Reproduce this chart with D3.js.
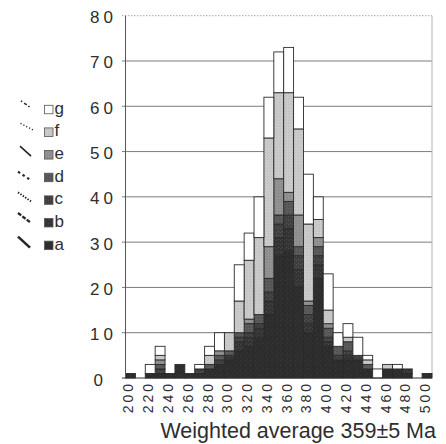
<!DOCTYPE html>
<html>
<head>
<meta charset="utf-8">
<script src="https://cdn.jsdelivr.net/npm/d3@7"></script>
<style>
  html, body { margin: 0; padding: 0; background: #fff; }
  svg { display: block; font-family: "Liberation Sans", Arial, Helvetica, sans-serif; }
</style>
</head>
<body>
<svg id="chart" width="446" height="444"></svg>
<script>
// Age bins (Ma), one bar per 10 Ma step
const bins = [200,210,220,230,240,250,260,270,280,290,300,310,320,330,340,350,
              360,370,380,390,400,410,420,430,440,450,460,470,480,490,500];

// Counts per bin for each sample group, stacked a (bottom) to g (top)
const a = [1,0,1,1,1,3,1,1,2,3,4,6,7,9,14,27,28,20,10,22,7,4,4,4,2,0,2,2,1,0,1];
const b = [0,0,0,0,0,0,0,0,0,0,1,2,2,2,3,4,5,4,2,3,1,0,1,0,0,0,0,0,1,0,0];
const c = [0,0,0,1,0,0,0,1,0,1,0,1,1,1,2,3,3,3,2,2,1,1,1,1,0,0,0,0,0,0,0];
const d = [0,0,0,1,0,0,0,0,1,1,1,1,2,2,3,2,3,2,2,2,2,2,2,0,1,0,0,0,0,0,0];
const e = [0,0,0,1,0,0,0,0,0,1,0,0,1,0,7,8,2,7,1,2,1,0,0,0,0,0,0,0,0,0,0];
const f = [0,0,0,1,0,0,0,0,2,0,4,7,13,17,24,19,22,19,17,4,3,0,1,0,1,0,1,0,0,0,0];
const g = [0,0,2,2,0,0,0,1,2,4,0,8,6,9,9,9,10,7,11,5,8,3,3,4,1,2,0,1,0,0,0];

const seriesKeys = ["a","b","c","d","e","f","g"];
const seriesArrays = [a, b, c, d, e, f, g];

const yTicks = [0,10,20,30,40,50,60,70,80];
const xTickLabels = [200,220,240,260,280,300,320,340,360,380,400,420,440,460,480,500];
const xTitle = "Weighted average 359±5 Ma";

// Table for d3.stack
const rows = bins.map((bin, i) => {
  const r = { bin };
  seriesKeys.forEach((k, j) => { r[k] = seriesArrays[j][i]; });
  return r;
});

const svg = d3.select("#chart");
const textColor = "#2e2e2e";

// Soft stipple patterns for the shaded groups
const defs = svg.append("defs");
function stipple(id, base, dot, size) {
  const p = defs.append("pattern").attr("id", id)
    .attr("patternUnits", "userSpaceOnUse").attr("width", size).attr("height", size);
  p.append("rect").attr("width", size).attr("height", size).attr("fill", base);
  p.append("rect").attr("x", 0).attr("y", 0).attr("width", 1).attr("height", 1).attr("fill", dot);
  p.append("rect").attr("x", Math.floor(size / 2)).attr("y", Math.floor(size / 2) + 1)
    .attr("width", 1).attr("height", 1).attr("fill", dot);
}
stipple("pa", "#2d2d2d", "#383838", 5);
stipple("pb", "#343434", "#4a4a4a", 4);
stipple("pc", "#3f3f3f", "#575757", 4);
stipple("pd", "#5c5c5c", "#4c4c4c", 3);
stipple("pe", "#8c8c8c", "#9c9c9c", 3);
stipple("pf", "#cbcbcb", "#bebebe", 3);

const fills = {
  a: "url(#pa)", b: "url(#pb)", c: "url(#pc)", d: "url(#pd)",
  e: "url(#pe)", f: "url(#pf)", g: "#ffffff"
};

// Scales
const x = d3.scaleBand().domain(bins).range([125.5, 432]).padding(0);
const y = d3.scaleLinear().domain([0, 80]).range([378, 15.7]);

// Gridlines (top one dotted and light)
svg.append("g").selectAll("line").data(yTicks.filter(v => v > 0)).join("line")
  .attr("x1", 122).attr("x2", 432)
  .attr("y1", v => y(v)).attr("y2", v => y(v))
  .attr("stroke", v => v === 80 ? "#a8a8a8" : "#7c7c7c")
  .attr("stroke-width", 1)
  .attr("stroke-dasharray", v => v === 80 ? "1.5,1.5" : null);

// Right frame
svg.append("line")
  .attr("x1", 432).attr("x2", 432).attr("y1", y(80)).attr("y2", y(0))
  .attr("stroke", "#b5b5b5").attr("stroke-width", 1);

// Stacked bars
const stacked = d3.stack().keys(seriesKeys)(rows);
svg.append("g").selectAll("g").data(stacked).join("g")
  .attr("fill", s => fills[s.key])
  .selectAll("rect")
  .data(s => s.filter(p => p[1] - p[0] > 0))
  .join("rect")
  .attr("x", p => x(p.data.bin))
  .attr("width", x.bandwidth())
  .attr("y", p => y(p[1]))
  .attr("height", p => y(p[0]) - y(p[1]))
  .attr("stroke", "#2a2a2a")
  .attr("stroke-width", 0.9);

// Axes lines
svg.append("line")
  .attr("x1", 125.5).attr("x2", 125.5).attr("y1", y(80)).attr("y2", y(0))
  .attr("stroke", "#555").attr("stroke-width", 1);
svg.append("line")
  .attr("x1", 122).attr("x2", 432).attr("y1", y(0)).attr("y2", y(0))
  .attr("stroke", "#333").attr("stroke-width", 1.2);

// Y tick labels
svg.append("g").selectAll("text").data(yTicks).join("text")
  .attr("x", v => String(v).length < 2 ? 107 : 117)
  .attr("y", v => y(v) + 7.5)
  .attr("text-anchor", "end")
  .attr("font-size", 17)
  .attr("letter-spacing", 4)
  .attr("fill", textColor)
  .text(v => v);

// X tick labels (rotated)
svg.append("g").selectAll("text").data(xTickLabels).join("text")
  .attr("transform", v => `translate(${x(v) + x.bandwidth() / 2 - 2},381) rotate(-90)`)
  .attr("dy", "0.36em")
  .attr("text-anchor", "end")
  .attr("font-size", 14)
  .attr("letter-spacing", 3)
  .attr("fill", textColor)
  .text(v => v);

// X axis title
svg.append("text")
  .attr("x", 436).attr("y", 438)
  .attr("text-anchor", "end")
  .attr("font-size", 21.5)
  .attr("fill", textColor)
  .text(xTitle);

// Legend: line style glyph, swatch and group letter; rows line up with the 30..60 ticks
const lineStyles = {
  a: { w: 2.6, dash: null,          x1: 18,   y1: -13, x2: 30, y2: -2 },
  b: { w: 2.3, dash: "4,1.5",       x1: 18,   y1: -14, x2: 31, y2: -4 },
  c: { w: 2.0, dash: "1.4,1.5",     x1: 18,   y1: -12, x2: 31, y2: -3 },
  d: { w: 2.2, dash: "2.5,3",       x1: 18,   y1: -10, x2: 30, y2: -2 },
  e: { w: 1.6, dash: null,          x1: 20,   y1: -13, x2: 31, y2: -3 },
  f: { w: 1.3, dash: "1.2,2",       x1: 20.5, y1: -13, x2: 33, y2: -6.5 },
  g: { w: 1.6, dash: "1.5,2.5,3,2", x1: 21,   y1: -13, x2: 30, y2: -6.5 }
};
const legend = svg.append("g").selectAll("g").data(seriesKeys).join("g")
  .attr("transform", (k, i) => `translate(0,${y(30 + 5 * i) + 7.5})`);
legend.append("line")
  .attr("x1", k => lineStyles[k].x1).attr("y1", k => lineStyles[k].y1)
  .attr("x2", k => lineStyles[k].x2).attr("y2", k => lineStyles[k].y2)
  .attr("stroke", "#262626")
  .attr("stroke-width", k => lineStyles[k].w)
  .attr("stroke-dasharray", k => lineStyles[k].dash);
legend.append("rect")
  .attr("x", 44.5).attr("y", -8.5).attr("width", 8.5).attr("height", 8.5)
  .attr("fill", k => fills[k])
  .attr("stroke", "#555").attr("stroke-width", 0.8);
legend.append("text")
  .attr("x", 54.5).attr("y", 0)
  .attr("font-size", 17)
  .attr("fill", textColor)
  .text(k => k);
</script>
</body>
</html>
